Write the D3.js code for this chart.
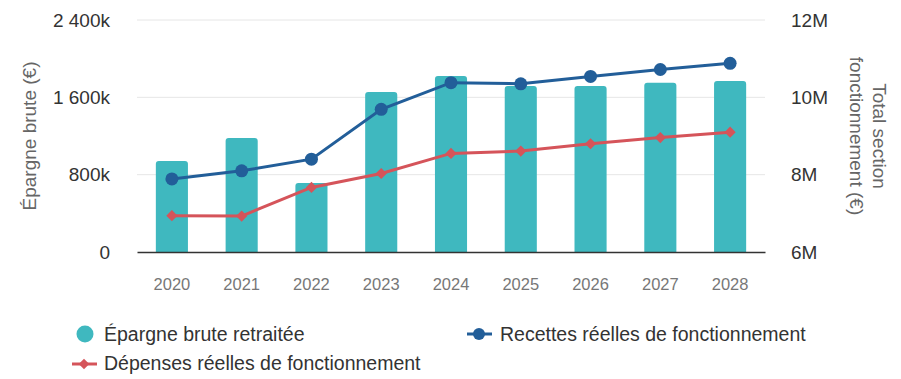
<!DOCTYPE html>
<html><head><meta charset="utf-8">
<script src="https://cdn.jsdelivr.net/npm/d3@7"></script>
<style>body{margin:0;background:#fff}svg{display:block;font-family:"Liberation Sans",Arial,sans-serif}</style>
</head><body><svg id="c" width="901" height="379"></svg>
<script>
const categories = ["2020","2021","2022","2023","2024","2025","2026","2027","2028"];
const epargne = [942000,1180000,714000,1656000,1821000,1718000,1718000,1750000,1770000];
const recettes = [7890000,8100000,8400000,9690000,10380000,10350000,10540000,10720000,10880000];
const depenses = [6940000,6930000,7670000,8030000,8550000,8610000,8800000,8960000,9100000];
const leftTicks = [0,800000,1600000,2400000];
const leftTickLabels = ["0","800k","1 600k","2 400k"];
const rightTicks = [6000000,8000000,10000000,12000000];
const rightTickLabels = ["6M","8M","10M","12M"];

const FF = '"Liberation Sans",Arial,sans-serif';
const svg = d3.select("#c");
const L=137,R=765,T=20,B=252;
const x = d3.scaleBand().domain(categories).range([L,R]).paddingInner(0.54).paddingOuter(0.27);
const yL = d3.scaleLinear().domain([0,2400000]).range([B,T]);
const yR = d3.scaleLinear().domain([6000000,12000000]).range([B,T]);
const teal="#3fb8bf", blue="#225e99", red="#d5545a";

// grid
svg.append("g").selectAll("line").data(leftTicks.slice(1)).join("line")
  .attr("x1",L).attr("x2",R).attr("y1",d=>yL(d)).attr("y2",d=>yL(d))
  .attr("stroke","#e6e6e6").attr("stroke-width",1);

// left axis
const ga = svg.append("g").attr("transform",`translate(${L-24},0)`)
  .call(d3.axisLeft(yL).tickValues(leftTicks).tickSize(0).tickFormat((d,i)=>leftTickLabels[i]));
ga.select(".domain").remove();
ga.selectAll("text").attr("font-size",19).attr("fill","#333").attr("font-family",FF);

const gr = svg.append("g").attr("transform",`translate(${R+23},0)`)
  .call(d3.axisRight(yR).tickValues(rightTicks).tickSize(0).tickFormat((d,i)=>rightTickLabels[i]));
gr.select(".domain").remove();
gr.selectAll("text").attr("font-size",19).attr("fill","#333").attr("font-family",FF);

// bars
const bw = x.bandwidth(), r=3;
svg.append("g").selectAll("path").data(epargne).join("path")
  .attr("fill",teal)
  .attr("d",(d,i)=>{const x0=x(categories[i]),y0=yL(d);
    return `M${x0},${B}V${y0+r}Q${x0},${y0} ${x0+r},${y0}H${x0+bw-r}Q${x0+bw},${y0} ${x0+bw},${y0+r}V${B}Z`;});

// x axis
const gx = svg.append("g").attr("transform",`translate(0,${B})`)
  .call(d3.axisBottom(x).tickSize(0).tickPadding(26));
gx.select(".domain").attr("stroke","#333").attr("stroke-width",1.5);
gx.selectAll("text").attr("font-size",16.5).attr("fill","#777").attr("font-family",FF);

const cx = c=>x(c)+bw/2;
// lines
const line = y=>d3.line().x((d,i)=>cx(categories[i])).y(d=>y(d));
svg.append("path").datum(depenses).attr("d",line(yR)).attr("fill","none").attr("stroke",red).attr("stroke-width",3);
svg.append("g").selectAll("path").data(depenses).join("path")
  .attr("d",d3.symbol(d3.symbolDiamond2,80)).attr("fill",red)
  .attr("transform",(d,i)=>`translate(${cx(categories[i])},${yR(d)})`);
svg.append("path").datum(recettes).attr("d",line(yR)).attr("fill","none").attr("stroke",blue).attr("stroke-width",3);
svg.append("g").selectAll("circle").data(recettes).join("circle")
  .attr("cx",(d,i)=>cx(categories[i])).attr("cy",d=>yR(d)).attr("r",6.5).attr("fill",blue);

// axis titles
svg.append("text").attr("transform",`translate(29,${(T+B)/2}) rotate(-90)`).attr("dy","0.35em")
  .attr("text-anchor","middle").attr("font-size",19).attr("fill","#666").text("Épargne brute (€)");
const rt = svg.append("text").attr("transform",`translate(868,${(T+B)/2}) rotate(90)`)
  .attr("text-anchor","middle").attr("font-size",19).attr("fill","#666");
rt.append("tspan").attr("x",0).attr("dy","-0.25em").text("Total section");
rt.append("tspan").attr("x",0).attr("dy","1.2em").text("fonctionnement (€)");

// legend
const lg = svg.append("g").attr("font-size",19.5).attr("fill","#333");
lg.append("circle").attr("cx",85).attr("cy",334).attr("r",8.5).attr("fill",teal);
lg.append("text").attr("x",104).attr("y",341).text("Épargne brute retraitée");
lg.append("line").attr("x1",467).attr("x2",492).attr("y1",334).attr("y2",334).attr("stroke",blue).attr("stroke-width",3);
lg.append("circle").attr("cx",479).attr("cy",334).attr("r",6).attr("fill",blue);
lg.append("text").attr("x",500).attr("y",341).text("Recettes réelles de fonctionnement");
lg.append("line").attr("x1",72).attr("x2",97).attr("y1",364).attr("y2",364).attr("stroke",red).attr("stroke-width",3);
lg.append("path").attr("d",d3.symbol(d3.symbolDiamond2,70)).attr("fill",red).attr("transform","translate(84,364)");
lg.append("text").attr("x",104).attr("y",370).text("Dépenses réelles de fonctionnement");
</script></body></html>
